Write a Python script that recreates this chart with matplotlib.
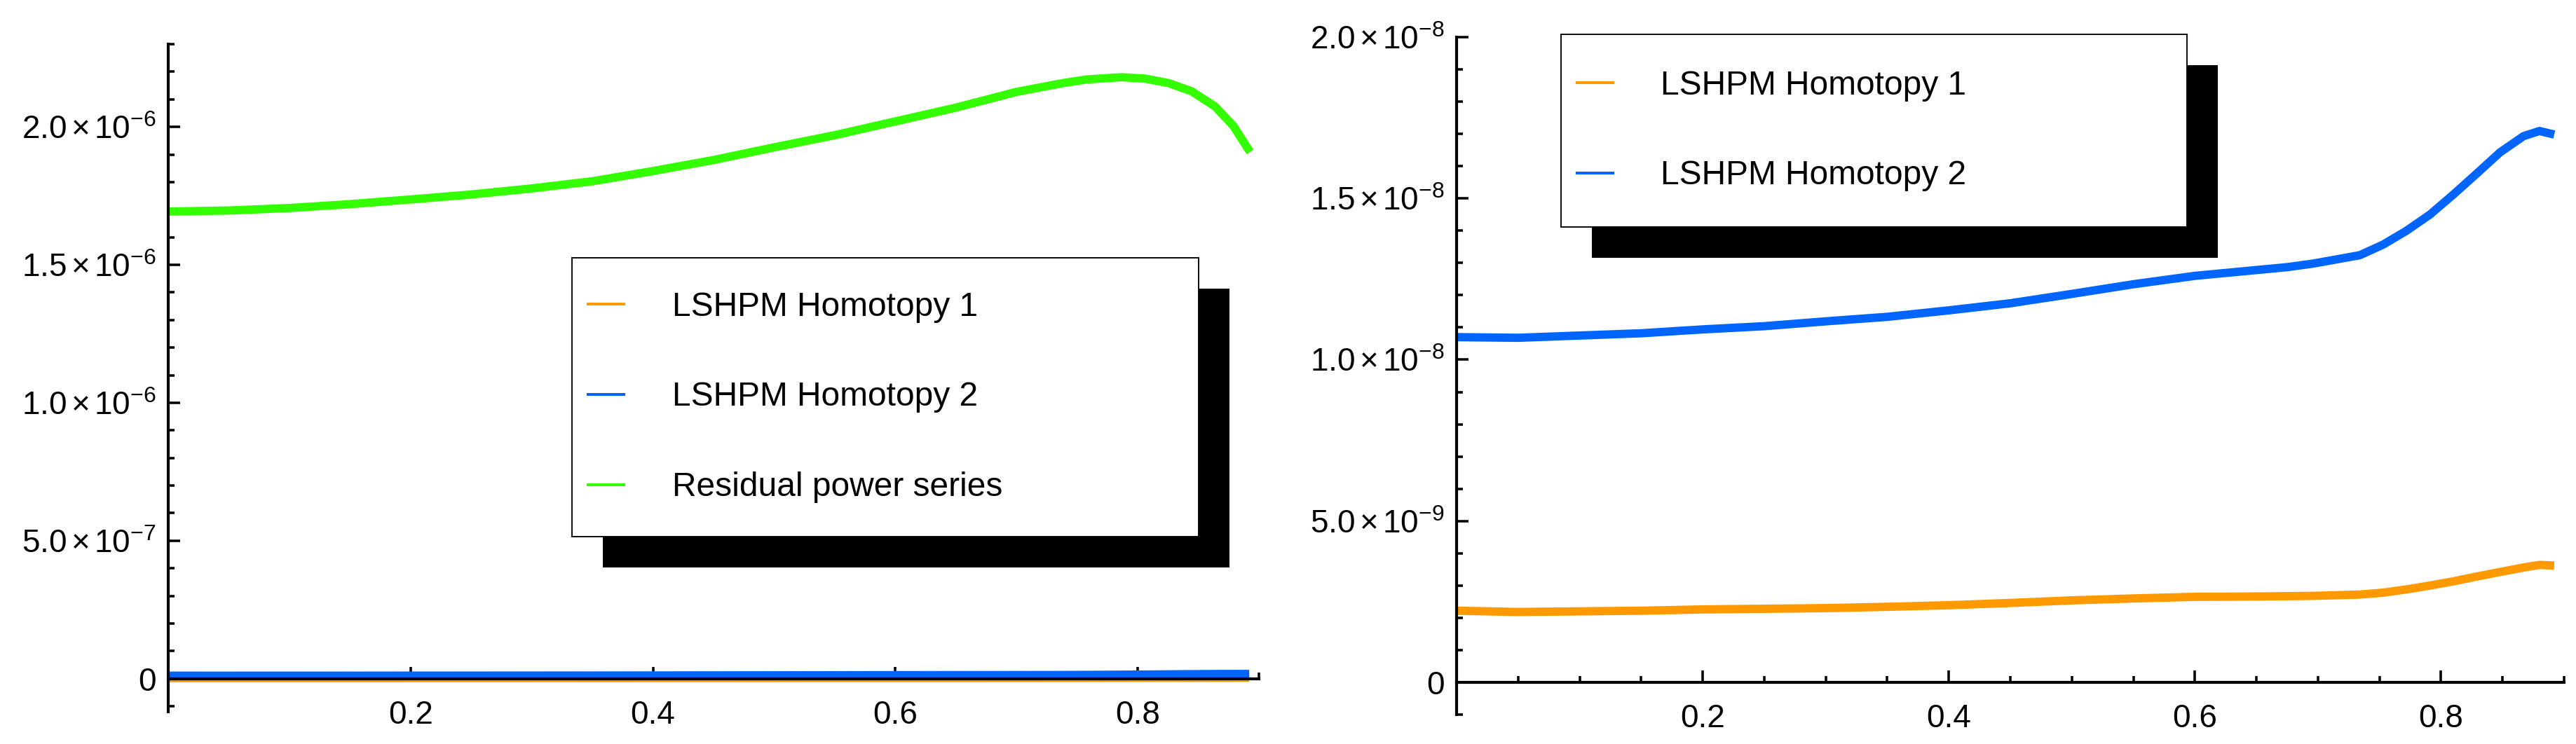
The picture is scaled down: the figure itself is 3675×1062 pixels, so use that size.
import math
import matplotlib
matplotlib.use("Agg")
import matplotlib.pyplot as plt
from matplotlib.ticker import MultipleLocator, FixedLocator, FuncFormatter
from matplotlib.patches import Rectangle
from matplotlib.transforms import offset_copy

plt.rcParams['font.family'] = ['Liberation Sans', 'DejaVu Sans']
plt.rcParams['mathtext.fontset'] = 'custom'
plt.rcParams['mathtext.rm'] = 'Liberation Sans'
plt.rcParams['mathtext.it'] = 'Liberation Sans:italic'
plt.rcParams['mathtext.bf'] = 'Liberation Sans:bold'

# data
x_lshpm = [0.0, 0.05, 0.1, 0.15, 0.2, 0.25, 0.3, 0.35, 0.4, 0.45, 0.5, 0.55, 0.6,
           0.65, 0.675, 0.696, 0.734, 0.753, 0.772, 0.791, 0.810, 0.829, 0.848,
           0.867, 0.880, 0.892]
homotopy1 = [2.22, 2.18, 2.20, 2.22, 2.26, 2.28, 2.30, 2.34, 2.39, 2.46, 2.54, 2.60, 2.65,
             2.66, 2.67, 2.68, 2.72, 2.78, 2.88, 3.00, 3.13, 3.28, 3.42,
             3.56, 3.64, 3.62]   # x 1e-9
homotopy2 = [10.70, 10.68, 10.75, 10.82, 10.94, 11.04, 11.19, 11.33, 11.53, 11.75, 12.04,
             12.34, 12.60, 12.78, 12.87, 12.98, 13.24, 13.57, 14.00, 14.50, 15.12, 15.77,
             16.43, 16.93, 17.09, 16.98]   # x 1e-9

x_rps = [0.0, 0.05, 0.1, 0.15, 0.2, 0.25, 0.3, 0.35, 0.4, 0.45, 0.5, 0.55, 0.6,
         0.65, 0.700, 0.7385, 0.7578, 0.7867, 0.806, 0.8253, 0.8445, 0.8638,
         0.879, 0.8927]
residual = [1.693, 1.697, 1.706, 1.720, 1.737, 1.755, 1.777, 1.803, 1.840, 1.880, 1.926,
            1.970, 2.020, 2.070, 2.127, 2.159, 2.172, 2.180, 2.175, 2.159, 2.129, 2.074,
            2.003, 1.909]   # x 1e-6

h1 = [v * 1e-9 for v in homotopy1]
h2 = [v * 1e-9 for v in homotopy2]
rps = [v * 1e-6 for v in residual]

labels = ["LSHPM Homotopy 1", "LSHPM Homotopy 2", "Residual power series"]
colors = ["#ff9900", "#0064ff", "#33ff00"]
x_ticks = [0.2, 0.4, 0.6, 0.8]


def sci_label(v, pos):
    if abs(v) < 1e-15:
        return "0"
    e = math.floor(math.log10(abs(v)) + 1e-9)
    m = v / 10 ** e
    return r"$%.1f\,{\times}\,10^{%d}$" % (m, e)


def style_axes(ax, ylim, major, minor):
    ax.set_xlim(0, 0.9)
    ax.set_ylim(*ylim)
    ax.spines['top'].set_visible(False)
    ax.spines['right'].set_visible(False)
    ax.spines['bottom'].set_position(('data', 0))
    for s in ('left', 'bottom'):
        ax.spines[s].set_linewidth(1.0)
    ax.xaxis.set_major_locator(FixedLocator(x_ticks))
    ax.xaxis.set_minor_locator(MultipleLocator(0.05))
    ax.yaxis.set_major_locator(MultipleLocator(major))
    ax.yaxis.set_minor_locator(MultipleLocator(minor))
    ax.yaxis.set_major_formatter(FuncFormatter(sci_label))
    ax.tick_params(which='both', direction='in', width=0.85, labelsize=11)
    ax.tick_params(which='major', length=4.1)
    ax.tick_params(which='minor', length=2.2)
    ax.tick_params(axis='x', pad=7.2)
    ax.tick_params(axis='y', pad=4.2)


def boxed_legend(fig, ax, handles, frame):
    # frame = (x0, y0, x1, y1) in axes fraction; black shadow shifted 44px right/down
    x0, y0, x1, y1 = frame
    shadow_tr = offset_copy(ax.transAxes, fig=fig, x=10.56, y=-10.56, units='points')
    ax.add_patch(Rectangle((x0, y0), x1 - x0, y1 - y0, transform=shadow_tr,
                           facecolor='black', edgecolor='none', zorder=4.8, clip_on=False))
    ax.add_patch(Rectangle((x0, y0), x1 - x0, y1 - y0, transform=ax.transAxes,
                           facecolor='white', edgecolor='black', linewidth=0.45,
                           zorder=4.9, clip_on=False))
    anchor_tr = offset_copy(ax.transAxes, fig=fig, x=5.04, y=0, units='points')
    leg = ax.legend(handles=handles, loc='center left',
                    bbox_to_anchor=(x0, (y0 + y1) / 2), bbox_transform=anchor_tr,
                    frameon=False, borderpad=0, borderaxespad=0, fontsize=11.5,
                    handlelength=1.15, handletextpad=1.38, labelspacing=1.75)
    for line in leg.get_lines():
        line.set_linewidth(0.95)
    leg.set_zorder(5)
    return leg


fig = plt.figure(figsize=(12.25, 3.54), dpi=300)
ax1 = fig.add_axes([240 / 3675, 46 / 1062, 1556 / 3675, 953 / 1062])
ax2 = fig.add_axes([2078 / 3675, 42 / 1062, 1580 / 3675, 967 / 1062])

lw = 2.85
kw = dict(lw=lw, zorder=2, solid_joinstyle='round', solid_capstyle='butt')
l1, = ax1.plot(x_lshpm, h1, color=colors[0], label=labels[0], **kw)
l2, = ax1.plot(x_lshpm, h2, color=colors[1], label=labels[1], **kw)
l3, = ax1.plot(x_rps, rps, color=colors[2], label=labels[2], **kw)
style_axes(ax1, (-1.2e-7, 2.3e-6), 5e-7, 1e-7)
boxed_legend(fig, ax1, [l1, l2, l3], (0.3704, 0.2623, 0.9447, 0.680))

r1, = ax2.plot(x_lshpm, h1, color=colors[0], label=labels[0], **kw)
r2, = ax2.plot(x_lshpm, h2, color=colors[1], label=labels[1], **kw)
style_axes(ax2, (-1e-9, 2e-8), 5e-9, 1e-9)
boxed_legend(fig, ax2, [r1, r2], (0.0943, 0.7198, 0.6595, 1.004))

fig.savefig("out.png", dpi=300)
